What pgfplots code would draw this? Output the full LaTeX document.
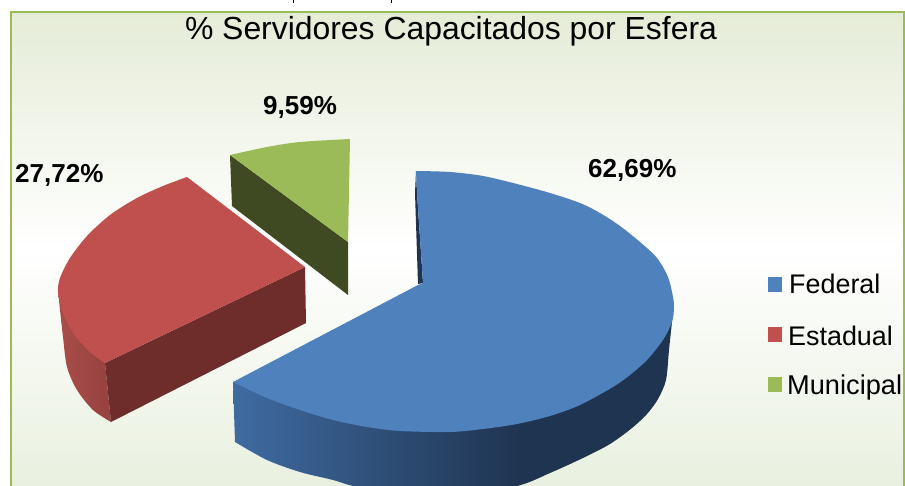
\documentclass[border=0pt]{standalone}
\usepackage{pgfplots}
\pgfplotsset{compat=1.18}
\usepackage{fontspec}
\setmainfont{Liberation Sans}
\definecolor{bluetop}{HTML}{4F81BD}
\definecolor{bluedark}{HTML}{1F3450}
\definecolor{blueleft}{HTML}{3F6BA2}
\definecolor{redtop}{HTML}{C0504D}
\definecolor{reddark}{HTML}{6E2C2B}
\definecolor{redsideA}{HTML}{A84D4A}
\definecolor{redsideB}{HTML}{96423F}
\definecolor{greentop}{HTML}{9BBB59}
\definecolor{greendark}{HTML}{404A22}
\definecolor{bgtop}{HTML}{E5ECD7}
\definecolor{bgbot}{HTML}{E9F0DF}
\newcommand{\lab}[2]{\fontsize{#1}{#1}\selectfont #2}
\begin{document}
\begin{tikzpicture}
\begin{axis}[
  scale only axis, width=905pt, height=486pt,
  xmin=0, xmax=905, ymin=0, ymax=486, y dir=reverse,
  hide axis, clip=true]
% page
\addplot[fill=white, draw=none] coordinates {(0,0)(905,0)(905,486)(0,486)} --cycle;
% frame with gradient
\addplot[draw=none, top color=bgtop, bottom color=bgbot, middle color=white] coordinates {(11,13)(905,13)(905,486)(11,486)} --cycle;
\addplot[draw=greentop, line width=2pt] coordinates {(11,486)(11,12.5)(904,12.5)(904,486)};
% clipped line of text above the frame
\addplot[draw=black, line width=1pt] coordinates {(293,0)(293,3)};
\addplot[draw=black, line width=1pt] coordinates {(391,0)(391,3)};
% blue side
\addplot[smooth, fill=bluedark, draw=none] coordinates {(400,497)(450,498)(517,486)(550,473)(583,458)(610,444)(632,428)(647,414)(658,399)(666,380)(669,350)(672,322)} -- (axis cs:500,350) -- cycle;
\addplot[smooth, draw=none, left color=blueleft, right color=bluedark] coordinates {(235,442)(267,460)(300,472)(333,480)(353,486)(400,496)(450,498)(520,485)} -- (axis cs:520,400) -- (axis cs:233,382) -- cycle;
\addplot[fill=bluedark, draw=none] coordinates {(416,171)(415,193)(418,284)(423,283)(417,193)} --cycle;
% blue top
\addplot[smooth, fill=bluetop, draw=none] coordinates {(416,171)(450,172)(483,176)(517,184)(550,193)(580,203)(600,213)(620,226)(640,242)(657,258)(668,277)(673,297)(674,308)(672,322)(663,340)(647,360)(630,375)(613,387)(580,405)(550,416)(517,424)(483,429)(450,432)(400,431)(367,427)(333,420)(300,410)(267,398)(233,382)} -- (axis cs:418,285) -- (axis cs:423,283) -- (axis cs:417,193) -- cycle;
% red
\addplot[smooth, draw=none, left color=redsideA, right color=redsideB] coordinates {(58,290)(60,310)(63,337)(67,367)(77,390)(93,410)(111,422)} -- (axis cs:105,363) -- (axis cs:85,335) -- cycle;
\addplot[fill=reddark, draw=none] coordinates {(105,363)(305,267)(306,323)(111,422)} --cycle;
\addplot[smooth, fill=redtop, draw=none] coordinates {(187,177)(163,186)(137,198)(110,215)(87,236)(70,258)(60,278)(58,292)(62,310)(73,333)(90,352)(105,363)} -- (axis cs:305,267) -- cycle;
% green
\addplot[fill=greendark, draw=none] coordinates {(230,155)(348,242)(348,295)(232,206)} --cycle;
\addplot[smooth, fill=greentop, draw=none] coordinates {(230,155)(267,147)(300,142)(350,139)} -- (axis cs:348,242) -- cycle;
% legend keys
\addplot[only marks, mark=square*, mark size=6.8pt, color=bluetop] coordinates {(774.5,284)};
\addplot[only marks, mark=square*, mark size=6.8pt, color=redtop] coordinates {(774.5,334)};
\addplot[only marks, mark=square*, mark size=6.8pt, color=greentop] coordinates {(774.5,384)};
% text
\node[anchor=base, inner sep=0pt] at (axis cs:451,39.5) {\lab{31.9}{\% Servidores Capacitados por Esfera}};
\node[anchor=base west, inner sep=0pt] at (axis cs:588,178) {\lab{26}{\bfseries 62,69\%}};
\node[anchor=base west, inner sep=0pt] at (axis cs:15,182.5) {\lab{26}{\bfseries 27,72\%}};
\node[anchor=base west, inner sep=0pt] at (axis cs:263,115) {\lab{26}{\bfseries 9,59\%}};
\node[anchor=base west, inner sep=0pt] at (axis cs:789,294) {\lab{26.9}{Federal}};
\node[anchor=base west, inner sep=0pt] at (axis cs:788,345) {\lab{26.9}{Estadual}};
\node[anchor=base west, inner sep=0pt] at (axis cs:787,394) {\lab{27.2}{Municipal}};
\end{axis}
\end{tikzpicture}
\end{document}
